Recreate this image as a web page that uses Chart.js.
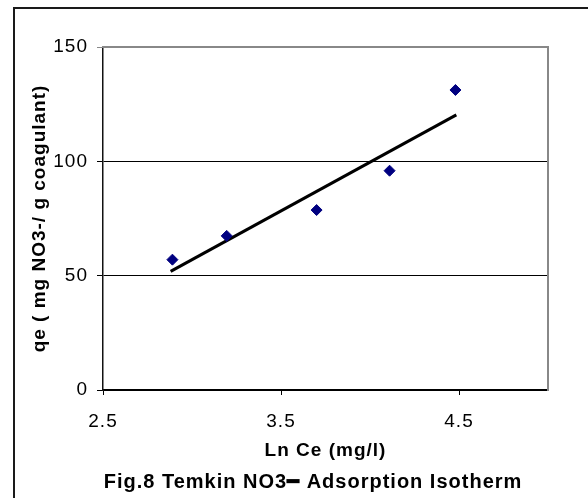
<!DOCTYPE html>
<html lang="en">
	<head>
		<meta charset="UTF-8" />
		<title>Temkin NO3 Adsorption Isotherm</title>
		<style>
			body {
				background: #fff;
				margin: 0;
				padding: 0;
				overflow: hidden;
			}

			#frame {
				position: absolute;
				left: 13px;
				top: 7px;
				border-left: 2px solid #1a1a1a;
				border-top: 2px solid #1a1a1a;
			}

			canvas {
				display: block;
			}
		</style>
		<script src="https://cdn.jsdelivr.net/npm/chart.js"></script>
	</head>
	<body>
		<div id="frame"><canvas id="chart" width="596" height="489"></canvas></div>
		<script>
			// measured points
			const lnCe = [2.89, 3.195, 3.70, 4.11, 4.48];
			const qe = [57.0, 67.4, 78.7, 95.9, 131.2];

			// linear fit, end points as drawn
			const fitLnCe = [2.88, 4.485];
			const fitQe = [51.9, 120.3];

			const xTicks = [2.5, 3.5, 4.5];
			const yTicks = [0, 50, 100, 150];

			const FONT = "'Liberation Sans', Arial, sans-serif";

			// the original text is set a little loose
			const spacing = {
				id: "spacing",
				beforeUpdate(chart) {
					chart.ctx.letterSpacing = "1px";
				},
				beforeDraw(chart) {
					chart.ctx.letterSpacing = "1px";
				},
			};

			const ctx = document.getElementById("chart").getContext("2d");
			new Chart(ctx, {
				type: "scatter",
				data: {
					datasets: [
						{
							label: "qe",
							data: lnCe.map((x, i) => ({ x: x, y: qe[i] })),
							pointStyle: "rectRot",
							pointRadius: 5.5,
							backgroundColor: "#000080",
							borderColor: "#000080",
							borderWidth: 1,
						},
						{
							label: "fit",
							data: fitLnCe.map((x, i) => ({ x: x, y: fitQe[i] })),
							showLine: true,
							pointRadius: 0,
							borderColor: "#000",
							borderWidth: 3,
						},
					],
				},
				options: {
					responsive: false,
					animation: false,
					layout: { padding: 0 },
					plugins: {
						legend: { display: false },
						tooltip: { enabled: false },
						title: {
							display: true,
							position: "bottom",
							text: "Fig.8 Temkin NO3\u2501 Adsorption Isotherm",
							color: "#000",
							font: { family: FONT, size: 20, weight: "bold" },
							padding: { top: 7.6, bottom: 4 },
						},
					},
					scales: {
						x: {
							type: "linear",
							min: 2.5,
							max: 5,
							afterBuildTicks: (s) => {
								s.ticks = xTicks.map((v) => ({ value: v }));
							},
							afterFit: (s) => {
								s.height = 72.4;
							},
							grid: {
								drawOnChartArea: false,
								tickLength: 5,
								color: "#000",
							},
							border: { color: "#000", width: 1.5 },
							ticks: {
								padding: 15,
								color: "#000",
								font: { family: FONT, size: 19 },
							},
							title: {
								display: true,
								text: "Ln Ce (mg/l)",
								color: "#000",
								font: { family: FONT, size: 19, weight: "bold" },
								padding: { top: 0, bottom: 0 },
							},
						},
						y: {
							type: "linear",
							min: 0,
							max: 150,
							afterBuildTicks: (s) => {
								s.ticks = yTicks.map((v) => ({ value: v }));
							},
							afterFit: (s) => {
								s.width = 88;
							},
							grid: {
								tickLength: 6,
								lineWidth: 1,
								color: (c) => (c.tick && c.tick.value === 150 ? "#888" : "#000"),
							},
							border: { color: "#111", width: 1.5 },
							ticks: {
								padding: 9,
								color: "#000",
								font: { family: FONT, size: 19 },
							},
							title: {
								display: true,
								text: "qe ( mg NO3-/ g coagulant)",
								color: "#000",
								font: { family: FONT, size: 19, weight: "bold" },
								padding: { top: 13.4, bottom: 0 },
							},
						},
						// empty axes, used only as the grey top and right frame
						x2: {
							type: "linear",
							position: "top",
							afterFit: (s) => {
								s.height = 38;
							},
							grid: { display: false, drawTicks: false },
							ticks: { display: false },
							border: { color: "#888", width: 2 },
						},
						y2: {
							type: "linear",
							position: "right",
							afterFit: (s) => {
								s.width = 63;
							},
							grid: { display: false, drawTicks: false },
							ticks: { display: false },
							border: { color: "#888", width: 2 },
						},
					},
				},
				plugins: [spacing],
			});
		</script>
	</body>
</html>
